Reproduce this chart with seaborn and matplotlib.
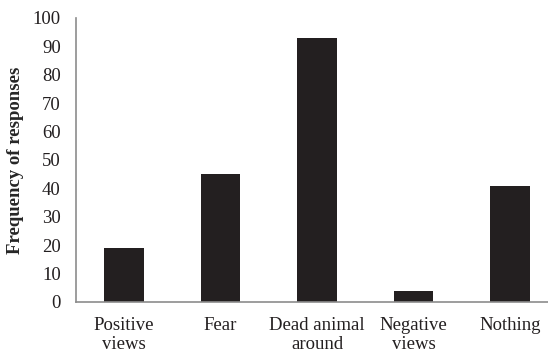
import matplotlib
matplotlib.use("Agg")
import matplotlib.pyplot as plt
import seaborn as sns
import pandas as pd

categories = ["Positive\nviews", "Fear", "Dead animal\naround", "Negative\nviews", "Nothing"]
responses = [19, 45, 93, 4, 41]
y_ticks = [0, 10, 20, 30, 40, 50, 60, 70, 80, 90, 100]

sns.set_style("white")
plt.rcParams["font.family"] = ["Liberation Serif", "DejaVu Serif"]

df = pd.DataFrame({"Category": categories, "Responses": responses})

fig = plt.figure(figsize=(5.48, 3.54), dpi=100)
ax = fig.add_axes([76 / 548, 52 / 354, 472 / 548, 284 / 354])

sns.barplot(x="Category", y="Responses", data=df, color="#231f20",
            saturation=1, width=0.41, edgecolor="none", ax=ax)

ax.set_ylim(0, 100)
ax.set_xlim(-0.5, -0.5 + 472 / 96.4)
ax.set_yticks(y_ticks)
ax.set_xlabel("")
ax.set_ylabel("Frequency of responses", fontsize=13.5, fontweight="bold")
ax.yaxis.set_label_coords(-0.11, 0.5)

ax.tick_params(axis="y", length=0, pad=11, labelsize=13.5, colors="#231f20")
ax.tick_params(axis="x", length=0, pad=11, labelsize=13.5, colors="#231f20")
for lbl in ax.get_xticklabels():
    lbl.set_linespacing(1.15)

for side in ["top", "right"]:
    ax.spines[side].set_visible(False)
for side in ["left", "bottom"]:
    ax.spines[side].set_color("#8c8c8c")
    ax.spines[side].set_linewidth(1.2)

fig.savefig("out.png", dpi=100)
